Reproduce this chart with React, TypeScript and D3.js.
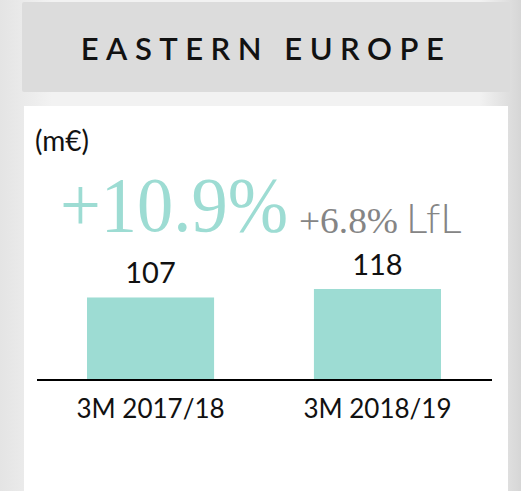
import React, { useEffect, useRef } from 'react';
import * as d3 from 'd3';

const categories = ['3M 2017/18', '3M 2018/19'];
const values = [107, 118];
const title = 'EASTERN EUROPE';
const unit = '(m€)';
const growth = '+10.9%';
const growthLfl = '+6.8%';
const lflLabel = 'LfL';

const W = 521;
const H = 491;
const TEAL = '#9ddcd3';

const App: React.FC = () => {
  const ref = useRef<SVGSVGElement>(null);

  useEffect(() => {
    const svg = d3.select(ref.current);
    svg.selectAll('*').remove();

    // page background
    const defs = svg.append('defs');
    const grad = defs.append('linearGradient').attr('id', 'bg').attr('x1', 0).attr('x2', 1);
    grad.append('stop').attr('offset', '0%').attr('stop-color', '#e4e4e4');
    grad.append('stop').attr('offset', '10%').attr('stop-color', '#f2f2f2');
    grad.append('stop').attr('offset', '92%').attr('stop-color', '#f2f2f2');
    grad.append('stop').attr('offset', '100%').attr('stop-color', '#d6d6d6');
    svg.append('rect').attr('width', W).attr('height', H).attr('fill', 'url(#bg)');

    // title box
    svg.append('rect')
      .attr('x', 22).attr('y', 2).attr('width', 488).attr('height', 90)
      .attr('rx', 2).attr('fill', '#dcdcdc');
    svg.append('text')
      .attr('x', 266).attr('y', 60)
      .attr('text-anchor', 'middle')
      .attr('font-family', 'Lato, "Noto Sans", sans-serif')
      .attr('font-size', 31)
      .attr('font-weight', 600)
      .attr('letter-spacing', 7.5)
      .attr('fill', '#111')
      .text(title);

    // white card
    svg.append('rect')
      .attr('x', 24).attr('y', 106).attr('width', 484).attr('height', 385)
      .attr('fill', '#ffffff');

    svg.append('text')
      .attr('x', 35).attr('y', 151)
      .attr('font-family', 'Lato, "Noto Sans", sans-serif')
      .attr('font-size', 28)
      .attr('fill', '#111')
      .text(unit);

    // growth headline
    svg.append('text')
      .attr('x', 60).attr('y', 231)
      .attr('font-family', '"Liberation Serif", serif')
      .attr('font-size', 78)
      .attr('textLength', 228)
      .attr('lengthAdjust', 'spacingAndGlyphs')
      .attr('fill', TEAL)
      .text(growth);
    svg.append('text')
      .attr('x', 299).attr('y', 233)
      .attr('font-family', '"Liberation Serif", serif')
      .attr('font-size', 36)
      .attr('textLength', 99)
      .attr('lengthAdjust', 'spacingAndGlyphs')
      .attr('fill', '#858585')
      .text(growthLfl);
    svg.append('text')
      .attr('x', 406).attr('y', 233)
      .attr('font-family', 'Lato, "Noto Sans", sans-serif')
      .attr('font-size', 42)
      .attr('font-weight', 300)
      .attr('fill', '#858585')
      .text(lflLabel);

    // bars
    const x = d3.scaleBand<string>()
      .domain(categories)
      .range([87, 441])
      .paddingInner(0.44)
      .paddingOuter(0);
    const y = d3.scaleLinear().domain([0, 118]).range([380, 289]);

    const g = svg.append('g');
    g.selectAll('rect.bar')
      .data(values)
      .enter()
      .append('rect')
      .attr('class', 'bar')
      .attr('x', (_, i) => x(categories[i])!)
      .attr('width', x.bandwidth())
      .attr('y', (d) => y(d))
      .attr('height', (d) => y(0) - y(d))
      .attr('fill', TEAL);

    g.selectAll('text.val')
      .data(values)
      .enter()
      .append('text')
      .attr('class', 'val')
      .attr('x', (_, i) => x(categories[i])! + x.bandwidth() / 2)
      .attr('y', (d) => y(d) - 14)
      .attr('text-anchor', 'middle')
      .attr('font-family', 'Lato, "Noto Sans", sans-serif')
      .attr('font-size', 29)
      .attr('fill', '#111')
      .text((d) => d);

    // axis line
    svg.append('line')
      .attr('x1', 37).attr('x2', 492)
      .attr('y1', y(0)).attr('y2', y(0))
      .attr('stroke', '#000').attr('stroke-width', 2);

    g.selectAll('text.cat')
      .data(categories)
      .enter()
      .append('text')
      .attr('class', 'cat')
      .attr('x', (d) => x(d)! + x.bandwidth() / 2)
      .attr('y', 418)
      .attr('text-anchor', 'middle')
      .attr('font-family', 'Lato, "Noto Sans", sans-serif')
      .attr('font-size', 26)
      .attr('fill', '#111')
      .text((d) => d);
  }, []);

  return (
    <svg
      ref={ref}
      width={W}
      height={H}
      style={{ position: 'fixed', left: 0, top: 0 }}
    ></svg>
  );
};

export default App;
